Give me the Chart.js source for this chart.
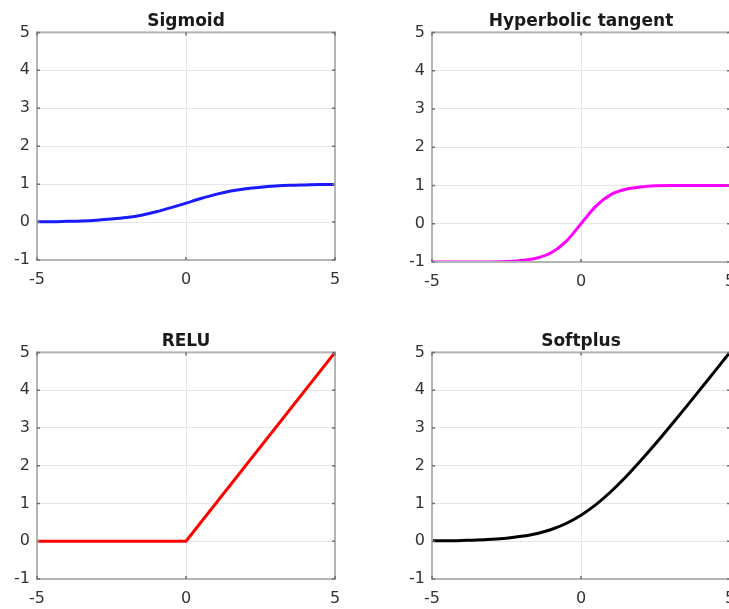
<!DOCTYPE html>
<html>
<head>
<meta charset="utf-8">
<script src="https://cdn.jsdelivr.net/npm/chart.js@4/dist/chart.umd.min.js"></script>
<style>
  html, body { margin: 0; padding: 0; background: #fff; overflow: hidden; width: 729px; height: 609px; }
  .panel { position: absolute; }
</style>
</head>
<body>
<canvas id="sigmoidChart" class="panel"></canvas>
<canvas id="tanhChart" class="panel"></canvas>
<canvas id="reluChart" class="panel"></canvas>
<canvas id="softplusChart" class="panel"></canvas>
<script>
// values
const xValues = [-5, -4.5, -4, -3.5, -3, -2.5, -2, -1.5, -1, -0.5, 0, 0.5, 1, 1.5, 2, 2.5, 3, 3.5, 4, 4.5, 5];
const sigmoidValues = [0.01, 0.01, 0.02, 0.03, 0.05, 0.08, 0.12, 0.18, 0.27, 0.38, 0.5, 0.62, 0.73, 0.82, 0.88, 0.92, 0.95, 0.97, 0.98, 0.99, 0.99];
const tanhValues = [-1, -1, -1, -1, -1, -0.99, -0.96, -0.9, -0.76, -0.46, 0, 0.46, 0.76, 0.9, 0.96, 0.99, 1, 1, 1, 1, 1];
const reluX = [-5, 0, 5];
const reluValues = [0, 0, 5];
const softplusValues = [0.01, 0.01, 0.02, 0.03, 0.05, 0.08, 0.13, 0.2, 0.31, 0.47, 0.69, 0.97, 1.31, 1.7, 2.13, 2.58, 3.05, 3.53, 4.02, 4.51, 5.01];
const xTickValues = [-5, 0, 5];
const yTickValues = [-1, 0, 1, 2, 3, 4, 5];

// box round the plot area + small inward ticks, like the original
const boxPlugin = {
    id: 'boxPlugin',
    afterDatasetsDraw(chart) {
        const a = chart.chartArea;
        const ctx = chart.ctx;
        ctx.save();
        ctx.strokeStyle = '#b4b4b4';
        ctx.lineWidth = 2;
        ctx.strokeRect(a.left, a.top, a.right - a.left, a.bottom - a.top);
        ctx.strokeStyle = '#707070';
        ctx.lineWidth = 1.5;
        ctx.beginPath();
        xTickValues.forEach(v => {
            const px = chart.scales.x.getPixelForValue(v);
            ctx.moveTo(px, a.bottom); ctx.lineTo(px, a.bottom - 3);
            ctx.moveTo(px, a.top); ctx.lineTo(px, a.top + 3);
        });
        yTickValues.forEach(v => {
            const py = chart.scales.y.getPixelForValue(v);
            ctx.moveTo(a.left, py); ctx.lineTo(a.left + 3, py);
            ctx.moveTo(a.right, py); ctx.lineTo(a.right - 3, py);
        });
        ctx.stroke();
        ctx.restore();
    }
};

function makePoints(xs, ys) {
    return xs.map((x, i) => ({ x: x, y: ys[i] }));
}

function deseneaza(id, titlu, xs, ys, culoare, pos) {
    const panza = document.getElementById(id);
    panza.width = 372;
    panza.height = pos.height;
    panza.style.left = pos.left + 'px';
    panza.style.top = pos.top + 'px';
    return new Chart(panza.getContext('2d'), {
        type: 'line',
        data: {
            datasets: [{
                data: makePoints(xs, ys),
                borderColor: culoare,
                borderWidth: 3,
                pointRadius: 0,
                cubicInterpolationMode: pos.straight ? 'default' : 'monotone',
                tension: 0,
                fill: false
            }]
        },
        options: {
            responsive: false,
            animation: false,
            layout: { padding: 0 },
            plugins: {
                legend: { display: false },
                tooltip: { enabled: false },
                title: {
                    display: true,
                    text: titlu,
                    color: '#1a1a1a',
                    font: { family: 'DejaVu Sans', size: 17, weight: 'bold' },
                    padding: { top: 11, bottom: 1 }
                }
            },
            scales: {
                x: {
                    type: 'linear',
                    min: -5, max: 5,
                    afterBuildTicks: s => { s.ticks = xTickValues.map(v => ({ value: v })); },
                    afterFit: s => { s.height = pos.xAxisH; },
                    border: { display: false },
                    grid: { color: '#e6e6e6', lineWidth: 1, drawTicks: false },
                    ticks: { color: '#333333', padding: 10, font: { family: 'DejaVu Sans', size: 16 } }
                },
                y: {
                    type: 'linear',
                    min: -1, max: 5,
                    afterBuildTicks: s => { s.ticks = yTickValues.map(v => ({ value: v })); },
                    afterFit: s => { s.width = 37; },
                    border: { display: false },
                    grid: { color: '#e6e6e6', lineWidth: 1, drawTicks: false },
                    ticks: { color: '#333333', padding: 7, font: { family: 'DejaVu Sans', size: 16 } }
                },
                // empty right axis, only keeps the plot centred under the title
                yRight: {
                    type: 'linear',
                    position: 'right',
                    min: -1, max: 5,
                    afterFit: s => { s.width = 37; },
                    border: { display: false },
                    grid: { display: false },
                    ticks: { display: false }
                }
            }
        },
        plugins: [boxPlugin]
    });
}

deseneaza('sigmoidChart', 'Sigmoid', xValues, sigmoidValues, '#1a1aff', { left: 0, top: 0, height: 300, xAxisH: 40 });
deseneaza('tanhChart', 'Hyperbolic tangent', xValues, tanhValues, '#ff00ff', { left: 395, top: 0, height: 302, xAxisH: 40 });
deseneaza('reluChart', 'RELU', reluX, reluValues, '#ff0000', { left: 0, top: 320, height: 289, xAxisH: 30, straight: true });
deseneaza('softplusChart', 'Softplus', xValues, softplusValues, '#000000', { left: 395, top: 320, height: 289, xAxisH: 30 });
</script>
</body>
</html>
